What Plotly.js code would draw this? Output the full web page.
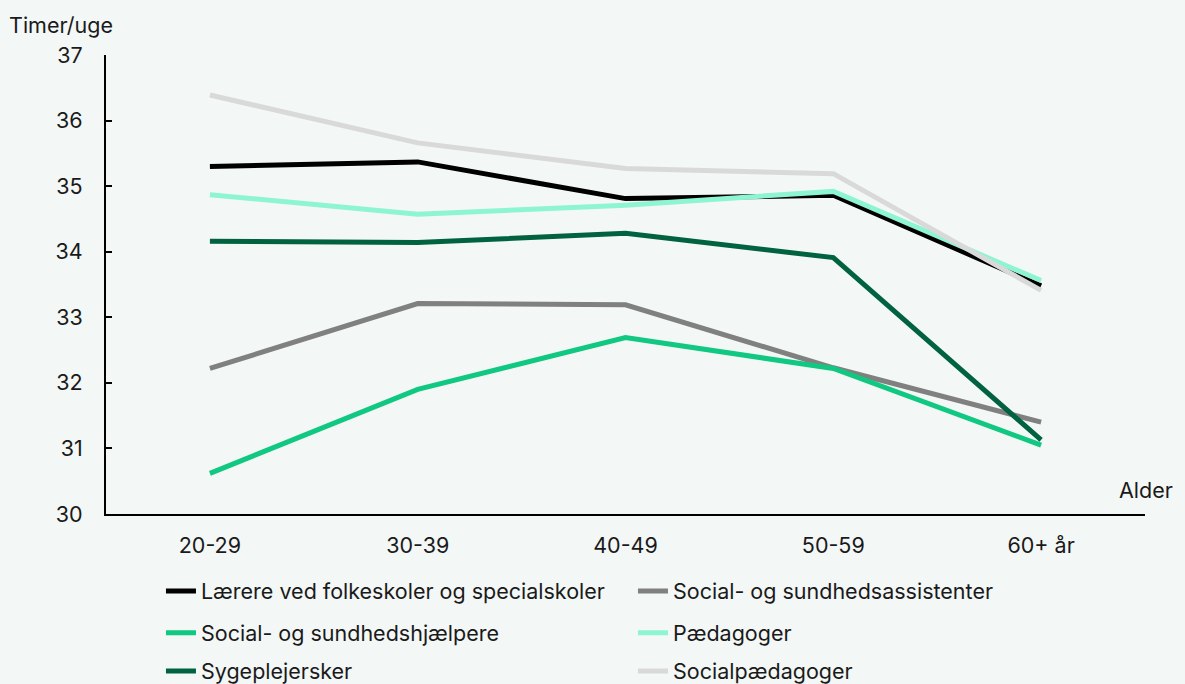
<!DOCTYPE html>
<html>
<head>
<meta charset="utf-8">
<script src="https://cdn.plot.ly/plotly-3.0.1.min.js"></script>
<style>
  html, body { margin: 0; padding: 0; background: #f3f7f6; }
  #chart { width: 1185px; height: 684px; }
</style>
</head>
<body>
<div id="chart"></div>
<script>
// Categories (x axis)
const ageGroups = ["20-29", "30-39", "40-49", "50-59", "60+ år"];

// Series names
const seriesNames = [
  "Lærere ved folkeskoler og specialskoler",
  "Social- og sundhedsassistenter",
  "Social- og sundhedshjælpere",
  "Pædagoger",
  "Sygeplejersker",
  "Socialpædagoger"
];

// Series values (timer/uge)
const laerere        = [35.30, 35.37, 34.81, 34.86, 33.48];
const sosuAssistent  = [32.22, 33.21, 33.19, 32.23, 31.40];
const sosuHjaelper   = [30.62, 31.90, 32.69, 32.22, 31.05];
const paedagoger     = [34.87, 34.57, 34.71, 34.92, 33.56];
const sygeplejersker = [34.16, 34.14, 34.28, 33.91, 31.13];
const socialpaed     = [36.39, 35.66, 35.27, 35.19, 33.41];

// Y-axis tick values
const yTicks = [30, 31, 32, 33, 34, 35, 36, 37];

const seriesValues = [laerere, sosuAssistent, sosuHjaelper, paedagoger, sygeplejersker, socialpaed];
const colors = ["#000000", "#808080", "#10c882", "#8ef5d2", "#00623f", "#d9d9d9"];
const legendIds = ["legend", "legend", "legend2", "legend2", "legend3", "legend3"];

const FONT = "Inter, 'Noto Sans', sans-serif";
const FS = 21.5;
const TXT = "#1a1a1a";

const traces = seriesValues.map((vals, i) => ({
  type: "scatter",
  mode: "lines",
  x: ageGroups,
  y: vals,
  name: seriesNames[i],
  legend: legendIds[i],
  line: { color: colors[i], width: 5 },
  hoverinfo: "skip"
}));

const legendBase = {
  orientation: "h",
  xanchor: "left",
  x: 0.0529,
  yanchor: "middle",
  entrywidth: 427,
  entrywidthmode: "pixels",
  font: { family: FONT, size: FS, color: TXT },
  bgcolor: "rgba(0,0,0,0)",
  itemclick: false,
  itemdoubleclick: false
};

const layout = {
  width: 1185,
  height: 684,
  margin: { l: 106, r: 40, t: 55, b: 170, autoexpand: false },
  paper_bgcolor: "#f3f7f6",
  plot_bgcolor: "#f3f7f6",
  font: { family: FONT, size: FS, color: TXT },
  showlegend: true,
  xaxis: {
    type: "category",
    range: [-0.5, 4.5],
    showgrid: false,
    zeroline: false,
    showline: true,
    linecolor: "#000000",
    linewidth: 2,
    ticks: "",
    ticklabelstandoff: 11,
    tickfont: { family: FONT, size: FS, color: TXT }
  },
  yaxis: {
    range: [30, 37],
    tickvals: yTicks,
    ticktext: yTicks.map(String),
    showgrid: false,
    zeroline: false,
    showline: true,
    linecolor: "#000000",
    linewidth: 2,
    ticks: "inside",
    ticklen: 6,
    tickwidth: 2,
    tickcolor: "#000000",
    ticklabelstandoff: 17,
    tickfont: { family: FONT, size: FS, color: TXT }
  },
  legend:  Object.assign({}, legendBase, { y: -0.168 }),
  legend2: Object.assign({}, legendBase, { y: -0.259 }),
  legend3: Object.assign({}, legendBase, { y: -0.342 }),
  annotations: [
    {
      text: "Timer/uge",
      xref: "paper", yref: "paper",
      x: -0.095, y: 1.065,
      xanchor: "left", yanchor: "middle",
      showarrow: false,
      font: { family: FONT, size: FS, color: TXT }
    },
    {
      text: "Alder",
      xref: "paper", yref: "paper",
      x: 1.029, y: 0.052,
      xanchor: "right", yanchor: "middle",
      showarrow: false,
      font: { family: FONT, size: FS, color: TXT }
    }
  ]
};

Plotly.newPlot("chart", traces, layout, { displayModeBar: false, staticPlot: true });
</script>
</body>
</html>
